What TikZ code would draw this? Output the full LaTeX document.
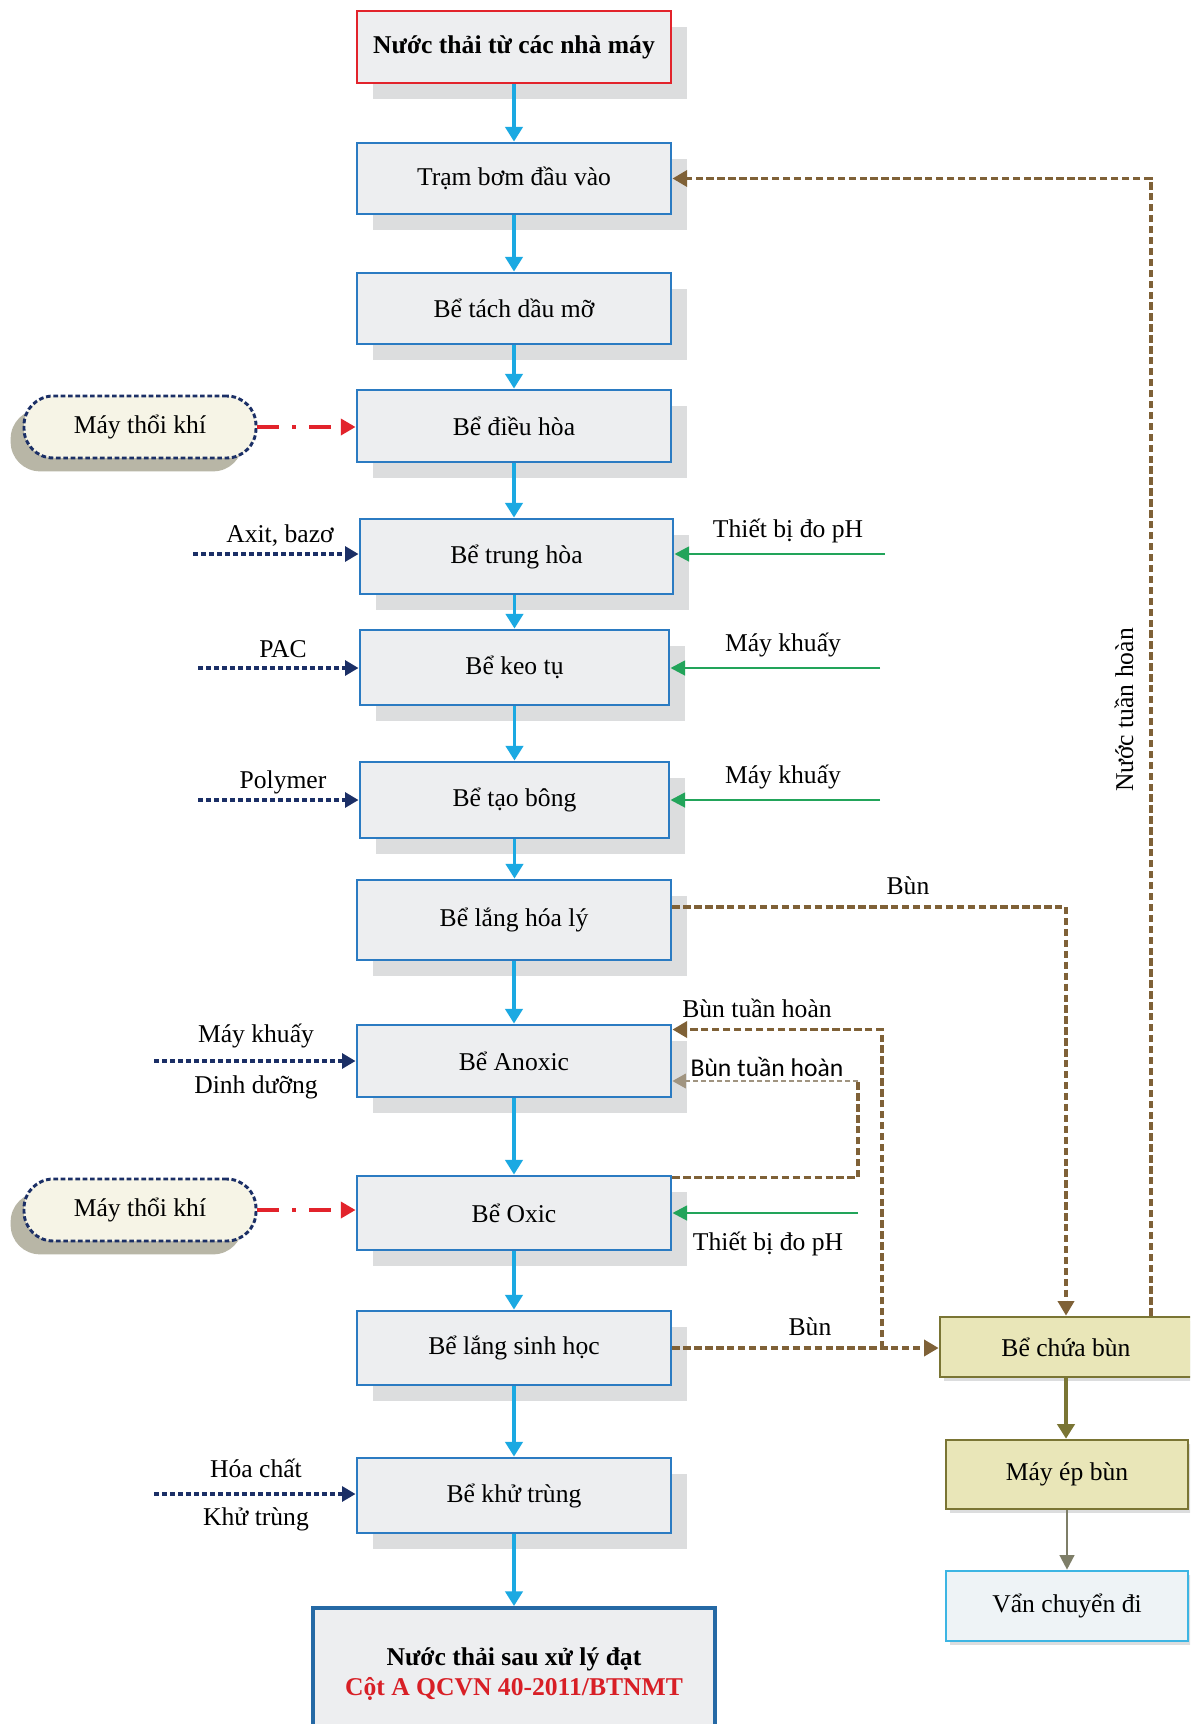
\documentclass[tikz,border=0pt]{standalone}
\usepackage{fontspec}
\setmainfont{Liberation Serif}
\newfontfamily\calibrif{Carlito}
\usetikzlibrary{arrows.meta,calc,shadows}
\definecolor{boxfill}{HTML}{EDEEF0}
\definecolor{boxblue}{HTML}{2B7BC2}
\definecolor{redb}{HTML}{E2232B}
\definecolor{cyanar}{HTML}{1BA9E2}
\definecolor{navy}{HTML}{1B2F66}
\definecolor{grn}{HTML}{22A45A}
\definecolor{brn}{HTML}{7F6137}
\definecolor{brnlight}{HTML}{A09480}
\definecolor{olive}{HTML}{7A7534}
\definecolor{olivefill}{HTML}{E9E6B8}
\definecolor{shd}{HTML}{DCDDDE}
\definecolor{cream}{HTML}{F6F4E6}
\definecolor{khaki}{HTML}{B8B6A6}
\definecolor{lblue}{HTML}{3DB5E3}
\definecolor{vfill}{HTML}{EEF3F6}
\definecolor{redtxt}{HTML}{D81F26}
\definecolor{grayline}{HTML}{7E7E68}
\begin{document}
\begin{tikzpicture}[x=0.75pt,y=-0.75pt,
  font=\fontsize{19.2}{23}\selectfont,
  sz/.style 2 args={minimum width=#1*0.75pt, minimum height=#2*0.75pt},
  pbox/.style={draw=boxblue, line width=2.2pt, fill=boxfill, inner sep=0pt,
     drop shadow={shadow xshift=12pt, shadow yshift=-12pt, fill=shd, opacity=1}},
  obox/.style={draw=olive, line width=2pt, fill=olivefill, inner sep=0pt,
     drop shadow={shadow xshift=3pt, shadow yshift=-3pt, fill=shd, opacity=1}},
  vbox/.style={draw=lblue, line width=2pt, fill=vfill, inner sep=0pt,
     drop shadow={shadow xshift=3pt, shadow yshift=-3pt, fill=shd, opacity=1}},
  blower/.style={draw=navy, line width=2.2pt, dash pattern=on 3.5pt off 2pt,
     fill=cream, rounded corners=22pt, sz={232}{62}, inner sep=0pt,
     drop shadow={shadow xshift=-10pt, shadow yshift=-10pt, fill=khaki, opacity=1}},
  flow/.style={draw=cyanar, line width=2.4pt, -{Triangle[length=11pt,width=13pt]}},
  navyar/.style={draw=navy, line width=2.5pt, dash pattern=on 3.75pt off 2.25pt,
     -{Triangle[length=10pt,width=11pt]}},
  grnar/.style={draw=grn, line width=2pt, -{Triangle[length=11pt,width=11pt]}},
  brnline/.style={draw=brn, line width=2.8pt, dash pattern=on 5.5pt off 2.7pt},
  brnar/.style={brnline, -{Triangle[length=11pt,width=12pt]}},
  redar/.style={draw=redb, line width=2.6pt,
     dash pattern=on 16pt off 10pt on 3pt off 10pt, -{Triangle[length=11pt,width=12pt]}},
  olar/.style={draw=olive, line width=2.6pt, -{Triangle[length=11pt,width=13pt]}},
  lbl/.style={inner sep=0pt}
]
\clip (0,0) rectangle (1190,1724);
\fill[white] (0,0) rectangle (1190,1724);

% main column
\node[pbox, draw=redb, sz={314}{72}, font=\bfseries\fontsize{19.2}{23}\selectfont] (n1) at (514,47) {Nước thải từ các nhà máy};
\node[pbox, sz={314}{71}] (n2) at (514,178.5) {Trạm bơm đầu vào};
\node[pbox, sz={314}{71}] (n3) at (514,308.5) {Bể tách dầu mỡ};
\node[pbox, sz={314}{72}] (n4) at (514,426) {Bể điều hòa};
\node[pbox, sz={313}{75}] (n5) at (516.5,556.5) {Bể trung hòa};
\node[pbox, sz={309}{75}] (n6) at (514.5,667.5) {Bể keo tụ};
\node[pbox, sz={309}{76}] (n7) at (514.5,800) {Bể tạo bông};
\node[pbox, sz={314}{80}] (n8) at (514,920) {Bể lắng hóa lý};
\node[pbox, sz={314}{72}] (n9) at (514,1061) {Bể Anoxic};
\node[pbox, sz={314}{74}] (n10) at (514,1213) {Bể Oxic};
\node[pbox, sz={314}{74}] (n11) at (514,1348) {Bể lắng sinh học};
\node[pbox, sz={314}{75}] (n12) at (514,1495.5) {Bể khử trùng};
\node[draw=boxblue!85!black, fill=boxfill, inner sep=0pt, line width=3pt, sz={402}{132}, align=center,
  font=\bfseries\fontsize{19.2}{22.5}\selectfont] (n13) at (514,1674)
  {Nước thải sau xử lý đạt\\\textcolor{redtxt}{Cột A QCVN 40-2011/BTNMT}};

% sludge column
\node[obox, sz={252}{60}] (s1) at (1066,1347) {Bể chứa bùn};
\node[obox, sz={242}{69}] (s2) at (1067,1474.5) {Máy ép bùn};
\node[vbox, sz={242}{70}] (s3) at (1067,1606) {Vẩn chuyển đi};

% blowers
\node[blower] (b1) at (140,427) {Máy thổi khí};
\node[blower] (b2) at (140,1210) {Máy thổi khí};

% main flow
\draw[flow] (n1.south) -- (n1.south |- n2.north);
\draw[flow] (n2.south) -- (n2.south |- n3.north);
\draw[flow] (n3.south) -- (n3.south |- n4.north);
\draw[flow] (n4.south) -- (n4.south |- n5.north);
\draw[flow] (n6.north |- n5.south) -- (n6.north);
\draw[flow] (n6.south) -- (n6.south |- n7.north);
\draw[flow] (n7.south) -- (n7.south |- n8.north);
\draw[flow] (n8.south) -- (n8.south |- n9.north);
\draw[flow] (n9.south) -- (n9.south |- n10.north);
\draw[flow] (n10.south) -- (n10.south |- n11.north);
\draw[flow] (n11.south) -- (n11.south |- n12.north);
\draw[flow] (n12.south) -- (n12.south |- n13.north);

% air
\draw[redar] (b1.east) -- (b1.east -| n4.west);
\draw[redar] (b2.east) -- (b2.east -| n10.west);

% chemical inputs (left)
\coordinate (a1) at (193,554);
\coordinate (a2) at (198,668);
\coordinate (a3) at (198,800);
\coordinate (a4) at (154,1061);
\coordinate (a5) at (154,1494);
\draw[navyar] (a1) -- (a1 -| n5.west);
\draw[navyar] (a2) -- (a2 -| n6.west);
\draw[navyar] (a3) -- (a3 -| n7.west);
\draw[navyar] (a4) -- (a4 -| n9.west);
\draw[navyar] (a5) -- (a5 -| n12.west);
\node[lbl] (la1) at (280,536) {Axit, bazơ};
\node[lbl] (la2) at (283,649) {PAC};
\node[lbl] (la3) at (283,782) {Polymer};
\node[lbl] (la4) at (256,1036) {Máy khuấy};
\node[lbl] (la5) at (256,1087) {Dinh dưỡng};
\node[lbl] (la6) at (256,1468) {Hóa chất};
\node[lbl] (la7) at (256,1519) {Khử trùng};

% equipment inputs (right)
\coordinate (g1) at (885,554);
\coordinate (g2) at (880,668);
\coordinate (g3) at (880,800);
\coordinate (g4) at (858,1213);
\draw[grnar] (g1) -- (g1 -| n5.east);
\draw[grnar] (g2) -- (g2 -| n6.east);
\draw[grnar] (g3) -- (g3 -| n7.east);
\draw[grnar] (g4) -- (g4 -| n10.east);
\node[lbl] (lg1) at (788,531) {Thiết bị đo pH};
\node[lbl] (lg2) at (783,645) {Máy khuấy};
\node[lbl] (lg3) at (783,777) {Máy khuấy};
\node[lbl] (lg4) at (768,1244) {Thiết bị đo pH};

% sludge lines
\draw[brnar] ($(n8.east)+(0,-13)$) -| (s1.north);
\draw[brnar] (n11.east) -- (n11.east -| s1.west);
\coordinate (j1) at (882,1348);
\draw[brnar] (j1) |- ($(n9.north east)+(0,6)$);
\coordinate (k1) at (858,1081);
\draw[brnline] ($(n10.north east)+(0,3)$) -| (k1);
\draw[draw=brnlight, line width=1pt, dash pattern=on 4pt off 2pt,
  -{Triangle[length=10pt,width=11pt]}] (k1) -- (k1 -| n9.east);
\coordinate (r1) at (1151,182);
\draw[brnar] (s1.north -| r1) |- (n2.east);
\node[lbl] (lb1) at (908,886) {Bùn};
\node[lbl] (lb2) at (757,1008) {Bùn tuần hoàn};
\node[lbl, font=\calibrif\fontsize{19.2}{23}\selectfont] (lb3) at (767,1067) {Bùn tuần hoàn};
\node[lbl] (lb4) at (810,1327) {Bùn};
\node[lbl, rotate=90] (lb5) at (1124,710) {Nước tuần hoàn};

% sludge treatment
\draw[olar] (s1.south) -- (s1.south |- s2.north);
\draw[draw=grayline, line width=1.8pt, -{Triangle[length=11pt,width=11pt]}] (s3.north |- s2.south) -- (s3.north);
\end{tikzpicture}
\end{document}
